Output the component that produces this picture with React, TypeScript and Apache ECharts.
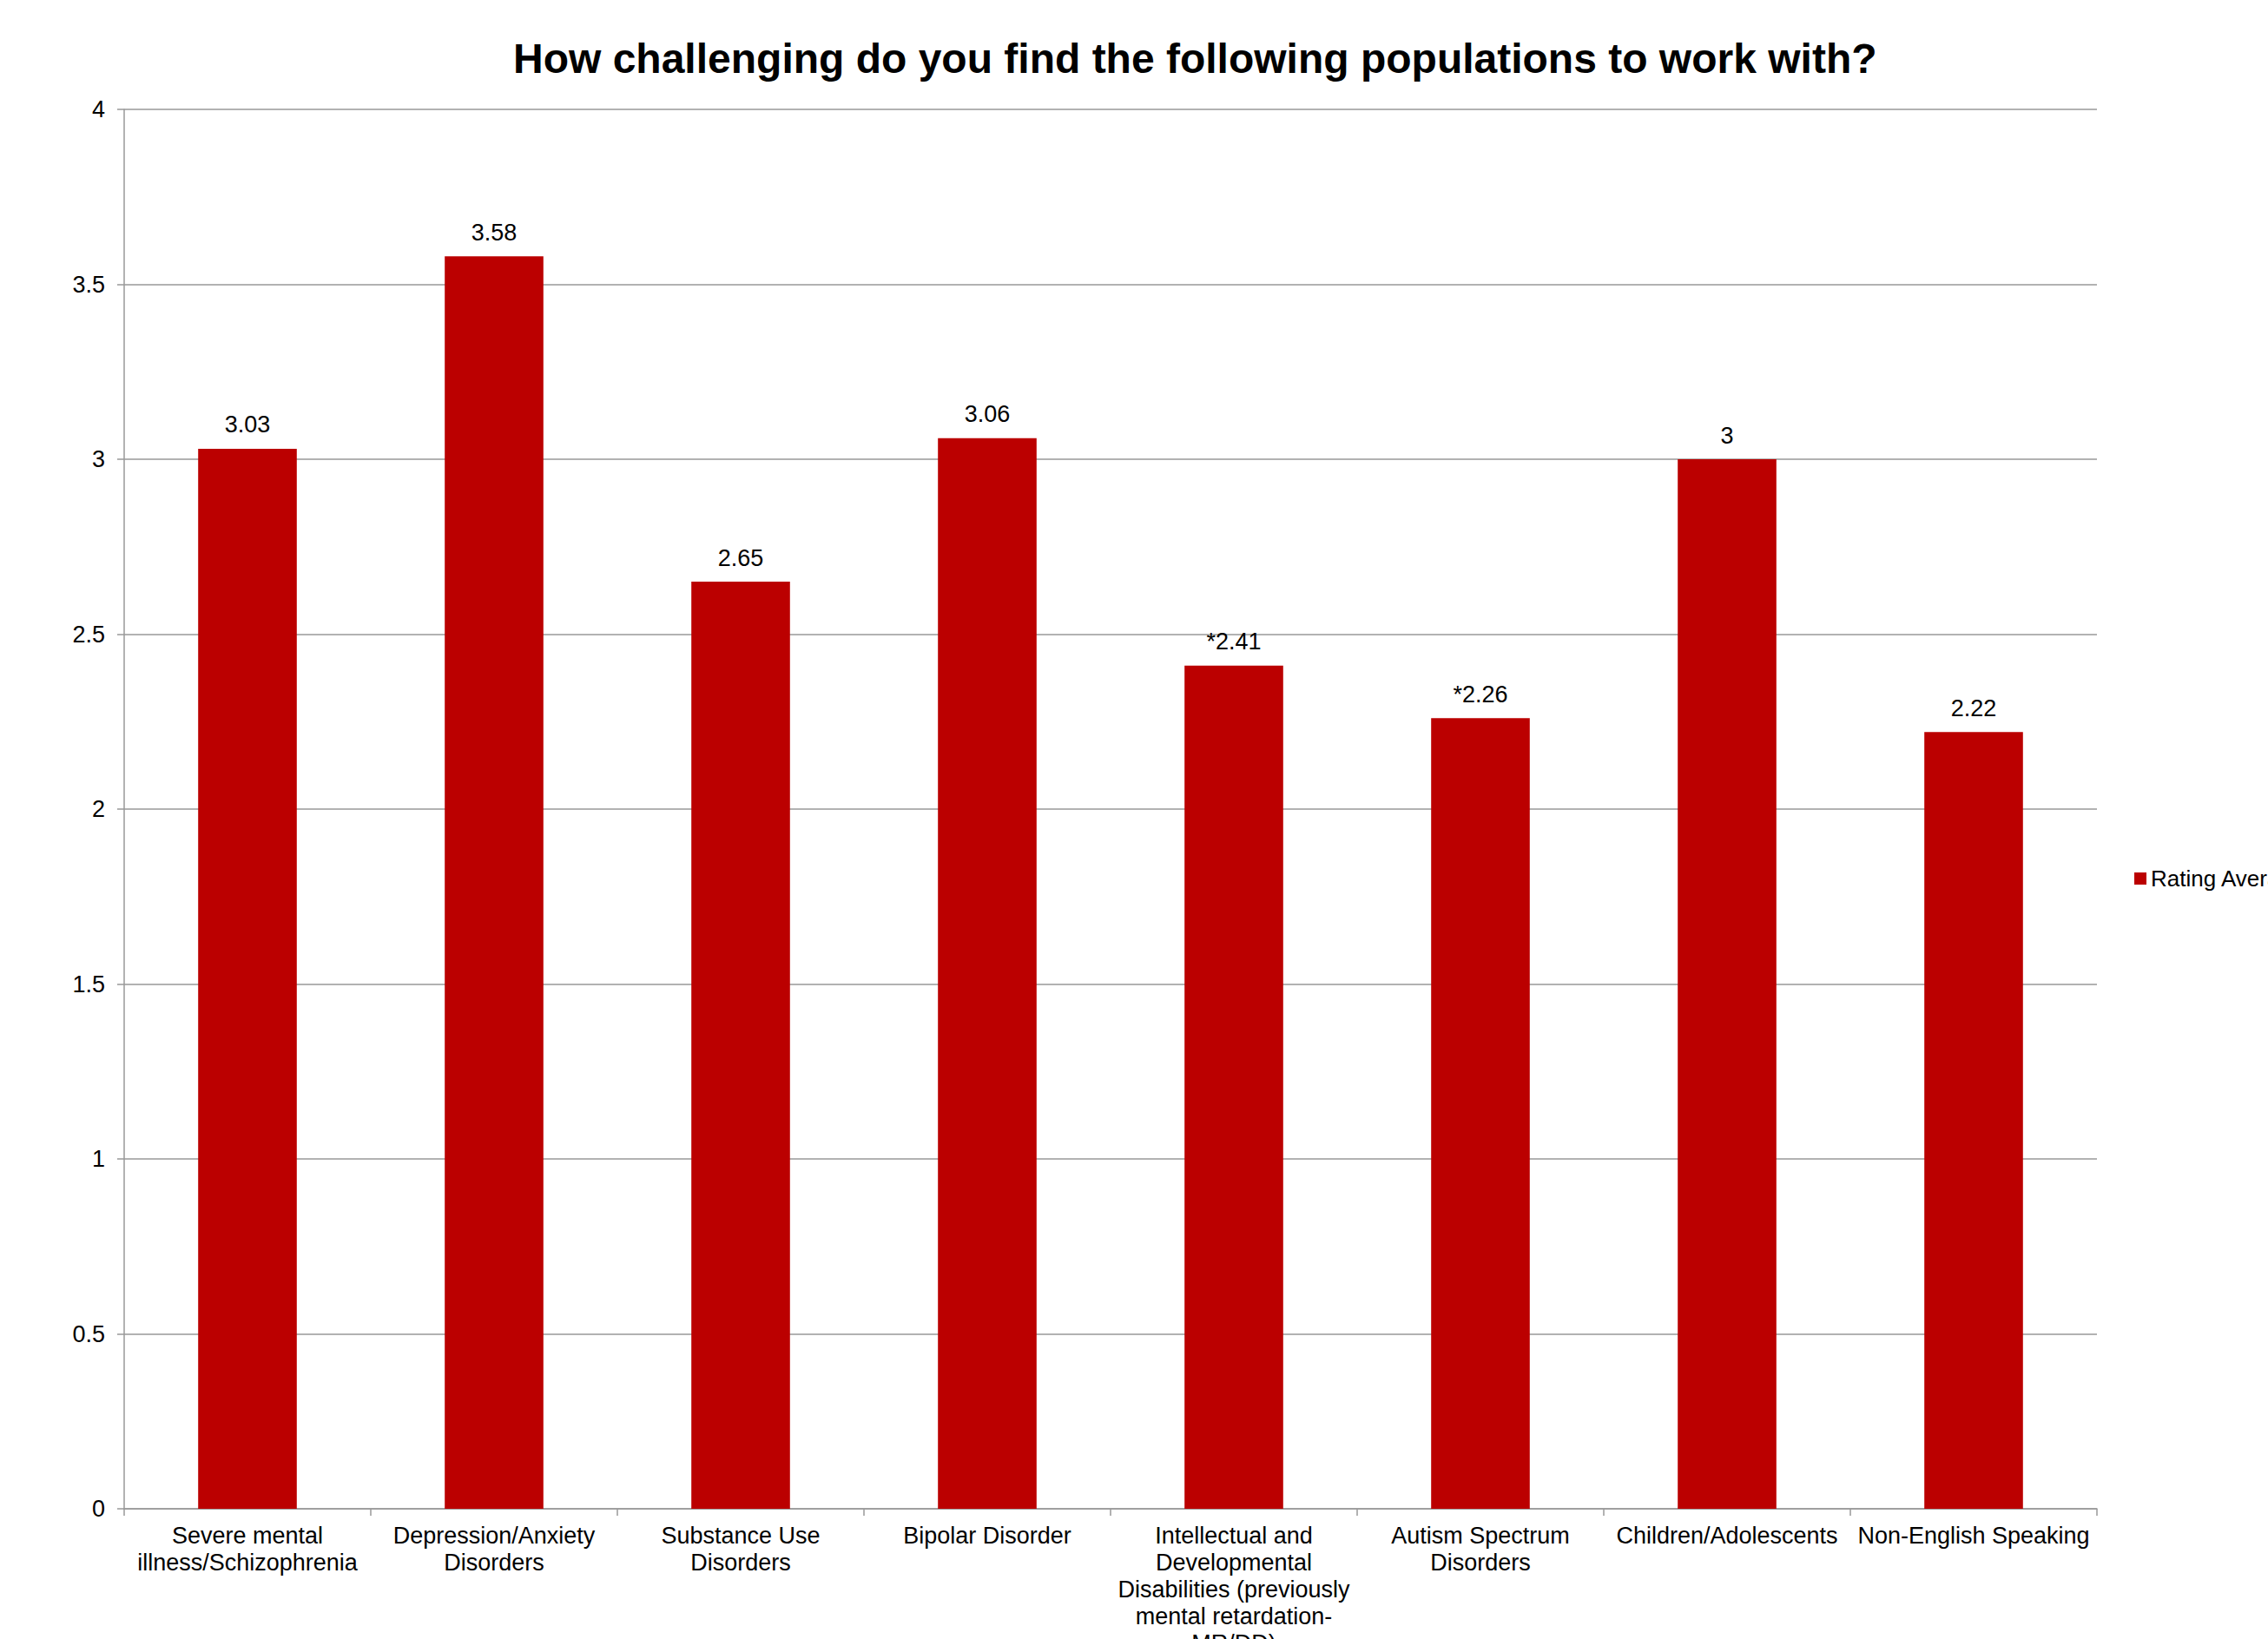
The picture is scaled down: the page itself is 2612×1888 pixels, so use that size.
import React, { useEffect, useRef } from "react";
import * as echarts from "echarts";

const titleText = "How challenging do you find the following populations to work with?";
const seriesName = "Rating Average";
const categories = [
  "Severe mental\nillness/Schizophrenia",
  "Depression/Anxiety\nDisorders",
  "Substance Use\nDisorders",
  "Bipolar Disorder",
  "Intellectual and\nDevelopmental\nDisabilities (previously\nmental retardation-\nMR/DD)",
  "Autism Spectrum\nDisorders",
  "Children/Adolescents",
  "Non-English Speaking",
];
const values = [3.03, 3.58, 2.65, 3.06, 2.41, 2.26, 3.0, 2.22];
const valueLabels = ["3.03", "3.58", "2.65", "3.06", "*2.41", "*2.26", "3", "2.22"];

const FONT = "'Liberation Sans', Arial, sans-serif";

export default function App() {
  const ref = useRef<HTMLDivElement>(null);
  useEffect(() => {
    if (!ref.current) return;
    const chart = echarts.init(ref.current, null, { renderer: "svg" });
    chart.setOption({
      animation: false,
      backgroundColor: "#ffffff",
      title: {
        text: titleText,
        left: 586,
        top: 38,
        textStyle: { fontFamily: FONT, fontSize: 48, fontWeight: "bold", color: "#000" },
      },
      legend: {
        left: 2453,
        top: 994,
        icon: "rect",
        itemWidth: 14,
        itemHeight: 14,
        textStyle: { fontFamily: FONT, fontSize: 26, color: "#000" },
        data: [seriesName],
      },
      grid: {
        left: 143,
        right: 197,
        top: 126,
        bottom: 150,
        containLabel: false,
        outerBoundsMode: "none",
      },
      xAxis: {
        type: "category",
        data: categories,
        axisLine: { show: true, lineStyle: { color: "#999", width: 1.5 } },
        axisTick: { show: true, length: 8, lineStyle: { color: "#999", width: 1.5 } },
        axisLabel: {
          interval: 0,
          margin: 15,
          fontFamily: FONT,
          fontSize: 27,
          lineHeight: 31,
          color: "#000",
        },
      },
      yAxis: {
        type: "value",
        min: 0,
        max: 4,
        interval: 0.5,
        axisLine: { show: true, lineStyle: { color: "#999", width: 1.5 } },
        axisTick: { show: true, length: 8, lineStyle: { color: "#999", width: 1.5 } },
        splitLine: { show: true, lineStyle: { color: "#999", width: 1.5 } },
        axisLabel: { margin: 22, fontFamily: FONT, fontSize: 27, color: "#000" },
      },
      series: [
        {
          name: seriesName,
          type: "bar",
          data: values,
          barWidth: "40%",
          itemStyle: { color: "#bb0000" },
          label: {
            show: true,
            position: "top",
            distance: 14,
            fontFamily: FONT,
            fontSize: 27,
            color: "#000",
            formatter: (p: any) => valueLabels[p.dataIndex],
          },
        },
      ],
    });
    return () => chart.dispose();
  }, []);
  return (
    <div
      ref={ref}
      style={{ position: "fixed", left: 0, top: 0, width: 2612, height: 1888, background: "#fff" }}
    />
  );
}
